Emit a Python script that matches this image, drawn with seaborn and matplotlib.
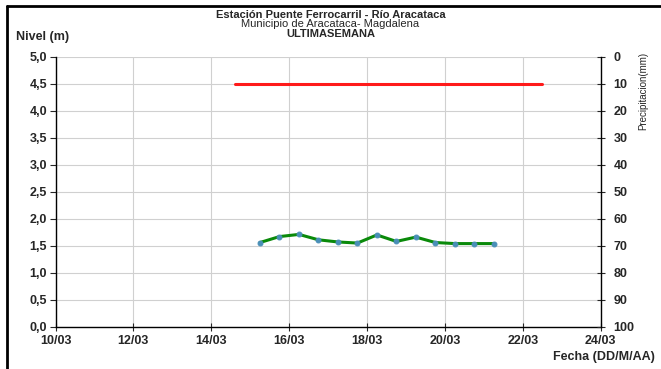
import pandas as pd
import numpy as np
import matplotlib
matplotlib.use("Agg")
import matplotlib.pyplot as plt
import matplotlib.dates as mdates
from matplotlib.ticker import FuncFormatter
from matplotlib.lines import Line2D
import seaborn as sns

## data
fechas_nivel = pd.date_range("2024-03-15 06:00", periods=13, freq="12h")
nivel = [1.56, 1.67, 1.71, 1.61, 1.57, 1.55, 1.70, 1.58, 1.66, 1.56, 1.54, 1.54, 1.54]
fechas_precip = pd.to_datetime(["2024-03-14 14:30", "2024-03-22 11:30"])
precip = [10, 10]

df_nivel = pd.DataFrame({"fecha": fechas_nivel, "nivel": nivel})
df_precip = pd.DataFrame({"fecha": fechas_precip, "precip": precip})

sns.set_style("white")
plt.rcParams["font.family"] = ["Liberation Sans", "DejaVu Sans"]

fig = plt.figure(figsize=(6.61, 3.69), dpi=100)
ax = fig.add_axes([0.084, 0.1146, 0.825, 0.7314])

ax.grid(True, color="#d0d0d0", linewidth=0.8)
ax.set_axisbelow(True)

sns.lineplot(data=df_nivel, x="fecha", y="nivel", ax=ax, color="#0a8a0a",
             linewidth=2.2, marker="o", markersize=3.5,
             markerfacecolor="#4a8fb8", markeredgecolor="#4a8fb8", zorder=3)

ax2 = ax.twinx()
sns.lineplot(data=df_precip, x="fecha", y="precip", ax=ax2, color="#ff1a1a",
             linewidth=2.2, zorder=3)
ax2.set_ylim(100, 0)
ax2.set_yticks(np.arange(0, 101, 10))
ax2.set_ylabel("")

ax.set_ylim(0, 5)
ax.set_yticks(np.arange(0, 5.01, 0.5))
ax.yaxis.set_major_formatter(FuncFormatter(lambda v, p: f"{v:.1f}".replace(".", ",")))
ax.set_xlim(pd.Timestamp("2024-03-10"), pd.Timestamp("2024-03-24"))
ax.xaxis.set_major_locator(mdates.DayLocator(interval=2))
ax.xaxis.set_major_formatter(mdates.DateFormatter("%d/%m"))
ax.set_xlabel("")
ax.set_ylabel("")

for a in (ax, ax2):
    for s in a.spines.values():
        s.set_visible(False)
ax.spines["left"].set_visible(True)
ax.spines["bottom"].set_visible(True)
ax2.spines["right"].set_visible(True)
for s in ("left", "bottom"):
    ax.spines[s].set_color("black")
    ax.spines[s].set_linewidth(1.0)
ax2.spines["right"].set_color("black")
ax2.spines["right"].set_linewidth(1.0)

ax.tick_params(axis="y", direction="out", length=4, width=0.8, labelsize=9, pad=2, left=True)
ax.tick_params(axis="x", direction="inout", length=6, width=0.8, labelsize=9, pad=3, bottom=True)
ax2.tick_params(axis="y", direction="inout", length=6, width=0.8, labelsize=9, pad=6, right=True)
for lab in ax.get_xticklabels() + ax.get_yticklabels() + ax2.get_yticklabels():
    lab.set_fontweight("bold")

fig.text(0.5, 0.96, "Estación Puente Ferrocarril - Río Aracataca", ha="center", va="center",
         fontsize=8, fontweight="bold")
fig.text(0.5, 0.934, "Municipio de Aracataca- Magdalena", ha="center", va="center", fontsize=8)
fig.text(0.5, 0.909, "ULTIMASEMANA", ha="center", va="center", fontsize=8, fontweight="bold")
fig.text(0.024, 0.899, "Nivel (m)", ha="left", va="center", fontsize=9, fontweight="bold")
fig.text(0.99, 0.032, "Fecha (DD/M/AA)", ha="right", va="center", fontsize=9, fontweight="bold")
fig.text(0.973, 0.86, "Precipitacion(mm)", ha="center", va="top", rotation=90, fontsize=7)

# outer frame (top and left edges visible)
fig.add_artist(Line2D([0.01, 1.0], [0.984, 0.984], color="black", linewidth=2, transform=fig.transFigure))
fig.add_artist(Line2D([0.01, 0.01], [0.0, 0.984], color="black", linewidth=2, transform=fig.transFigure))

fig.savefig("out.png", dpi=100)
